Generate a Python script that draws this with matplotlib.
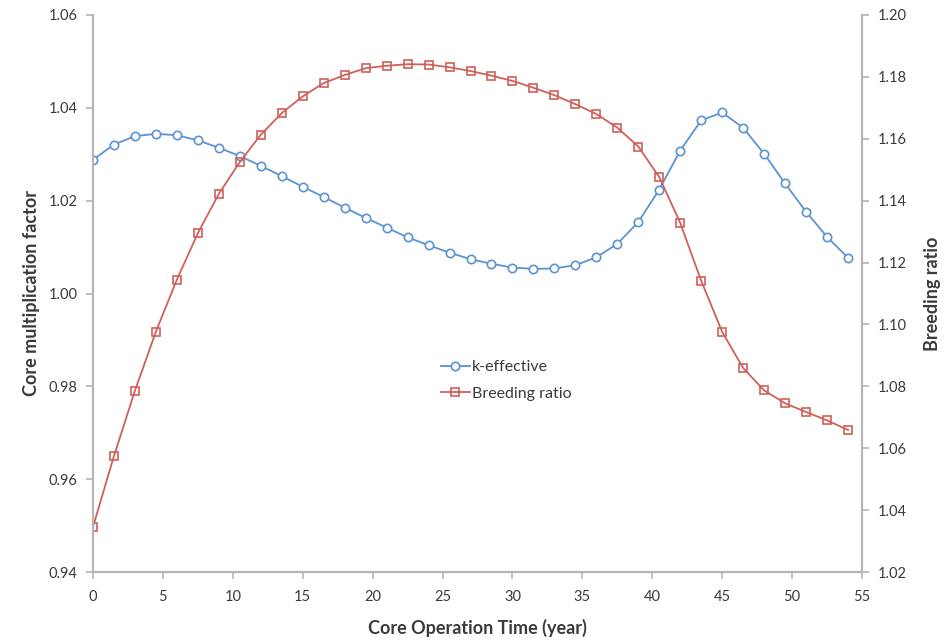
import numpy as np
import matplotlib
matplotlib.use('Agg')
import matplotlib.pyplot as plt

# Data (every 1.5 years)
years = [0, 1.5, 3, 4.5, 6, 7.5, 9, 10.5, 12, 13.5, 15, 16.5, 18, 19.5, 21, 22.5, 24,
         25.5, 27, 28.5, 30, 31.5, 33, 34.5, 36, 37.5, 39, 40.5, 42, 43.5, 45, 46.5,
         48, 49.5, 51, 52.5, 54]
k_effective = [1.0288, 1.0321, 1.0339, 1.0344, 1.0341, 1.0330, 1.0314, 1.0296, 1.0275,
               1.0253, 1.0230, 1.0208, 1.0185, 1.0163, 1.0142, 1.0121, 1.0104, 1.0088,
               1.0074, 1.0064, 1.0056, 1.0053, 1.0054, 1.0061, 1.0078, 1.0107, 1.0154,
               1.0224, 1.0308, 1.0373, 1.0390, 1.0357, 1.0301, 1.0237, 1.0176, 1.0122,
               1.0077]
breeding_ratio = [1.0346, 1.0575, 1.0786, 1.0977, 1.1145, 1.1295, 1.1422, 1.1525, 1.1613,
                  1.1683, 1.1737, 1.1780, 1.1806, 1.1828, 1.1836, 1.1841, 1.1840, 1.1831,
                  1.1819, 1.1804, 1.1787, 1.1765, 1.1741, 1.1712, 1.1680, 1.1636, 1.1575,
                  1.1476, 1.1328, 1.1141, 1.0976, 1.0859, 1.0787, 1.0745, 1.0717, 1.0690,
                  1.0659]

plt.rcParams['font.family'] = ['Lato', 'DejaVu Sans']
text_color = '#3a3a3a'
axis_color = '#b5b5b5'
blue = '#5b93d3'
red = '#d0605a'

fig = plt.figure(figsize=(9.49, 6.41), dpi=100)
ax = fig.add_axes([93 / 949, 1 - 572 / 641, (862 - 93) / 949, (572 - 15) / 641])
ax2 = ax.twinx()

l1, = ax.plot(years, k_effective, color=blue, lw=1.3, marker='o', ms=6,
              mfc='white', mec=blue, mew=1.2, label='k-effective')
l2, = ax2.plot(years, breeding_ratio, color=red, lw=1.3, marker='s', ms=6,
               mfc='none', mec=red, mew=1.2, label='Breeding ratio')

ax.set_xlim(0, 55)
ax.set_ylim(0.94, 1.06)
ax2.set_ylim(1.02, 1.20)
ax.set_xticks(np.arange(0, 56, 5))
ax.set_yticks(np.arange(0.94, 1.0601, 0.02))
ax2.set_yticks(np.arange(1.02, 1.2001, 0.02))
ax.yaxis.set_major_formatter(matplotlib.ticker.FormatStrFormatter('%.2f'))
ax2.yaxis.set_major_formatter(matplotlib.ticker.FormatStrFormatter('%.2f'))

for a in (ax, ax2):
    a.spines['top'].set_visible(False)
    for s in ('left', 'right', 'bottom'):
        a.spines[s].set_color(axis_color)
        a.spines[s].set_linewidth(1.5)
    a.tick_params(colors=axis_color, labelcolor=text_color, labelsize=10.5,
                  length=5, width=1.2, direction='out')
ax.tick_params(axis='x', pad=8)
ax.tick_params(axis='y', pad=6)
ax2.tick_params(axis='y', pad=6)

ax.set_xlabel('Core Operation Time (year)', fontsize=13, fontweight='bold',
              color=text_color, labelpad=11)
ax.set_ylabel('Core multiplication factor', fontsize=13, fontweight='bold',
              color=text_color, labelpad=6)
ax2.set_ylabel('Breeding ratio', fontsize=13, fontweight='bold',
               color=text_color, labelpad=13)

leg = ax2.legend(handles=[l1, l2], loc='upper left', bbox_to_anchor=(0.434, 0.406),
                 frameon=False, fontsize=11.5, handlelength=1.8, handletextpad=0.15,
                 labelspacing=0.75)
for t in leg.get_texts():
    t.set_color(text_color)

fig.savefig('out.png', dpi=100)
